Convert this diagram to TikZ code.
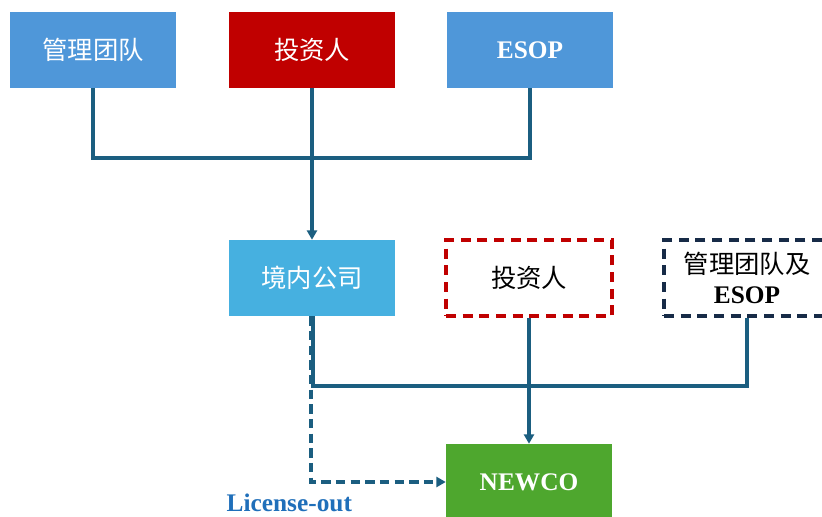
\documentclass[tikz,border=0pt]{standalone}
\usepackage{fontspec}
\setmainfont{Liberation Serif}
\newfontfamily\cjk{Noto Sans CJK SC}
\usetikzlibrary{arrows.meta}
\definecolor{bluebox}{RGB}{79,151,217}
\definecolor{redbox}{RGB}{192,0,0}
\definecolor{skybox}{RGB}{70,176,224}
\definecolor{greenbox}{RGB}{78,167,46}
\definecolor{linec}{RGB}{27,94,128}
\definecolor{navyd}{RGB}{23,43,71}
\definecolor{labelc}{RGB}{31,111,186}
\begin{document}
\begin{tikzpicture}[x=0.75pt,y=-0.75pt,
  box/.style={minimum width=124.5pt,minimum height=57pt,inner sep=0pt,align=center,
    font=\fontsize{19}{22}\selectfont\bfseries},
  solidbox/.style={box,fill=#1,text=white},
  dashbox/.style={box,draw=#1,line width=2.4pt,dash pattern=on 7.5pt off 5pt,text=black},
  conn/.style={draw=linec,line width=2.4pt},
  tip/.style={-{Triangle[length=7pt,width=7.5pt]}}
]
\clip (0,0) rectangle (822,517);
\fill[white] (0,0) rectangle (822,517);
\node[solidbox=bluebox] (mgmt) at (93,50) {\cjk\mdseries 管理团队};
\node[solidbox=redbox] (inv) at (312,50) {\cjk\mdseries 投资人};
\node[solidbox=bluebox] (esop) at (530,50) {ESOP};
\node[solidbox=skybox] (dom) at (312,278) {\cjk\mdseries 境内公司};
\node[dashbox=redbox] (inv2) at (529,278) {\cjk\mdseries 投资人};
\node[dashbox=navyd] (me) at (747,278) {{\cjk\mdseries 管理团队及}\\ESOP};
\node[solidbox=greenbox] (newco) at (529,482) {NEWCO};
\coordinate (j1) at (312,158);
\coordinate (j2) at (313,386);
\draw[conn] (mgmt.south) |- (j1) -| (esop.south);
\draw[conn,tip] (inv.south) -- (dom.north);
\draw[conn] ([xshift=0.75pt]dom.south) -- (j2) -| (me.south);
\draw[conn,tip] (inv2.south) -- (newco.north);
\draw[conn,tip,dash pattern=on 7pt off 4pt] ([xshift=-0.75pt]dom.south) |- (newco.west);
\node[text=labelc,font=\fontsize{19}{22}\selectfont\bfseries,anchor=west] (lic) at (222,503) {License-out};
\end{tikzpicture}
\end{document}
